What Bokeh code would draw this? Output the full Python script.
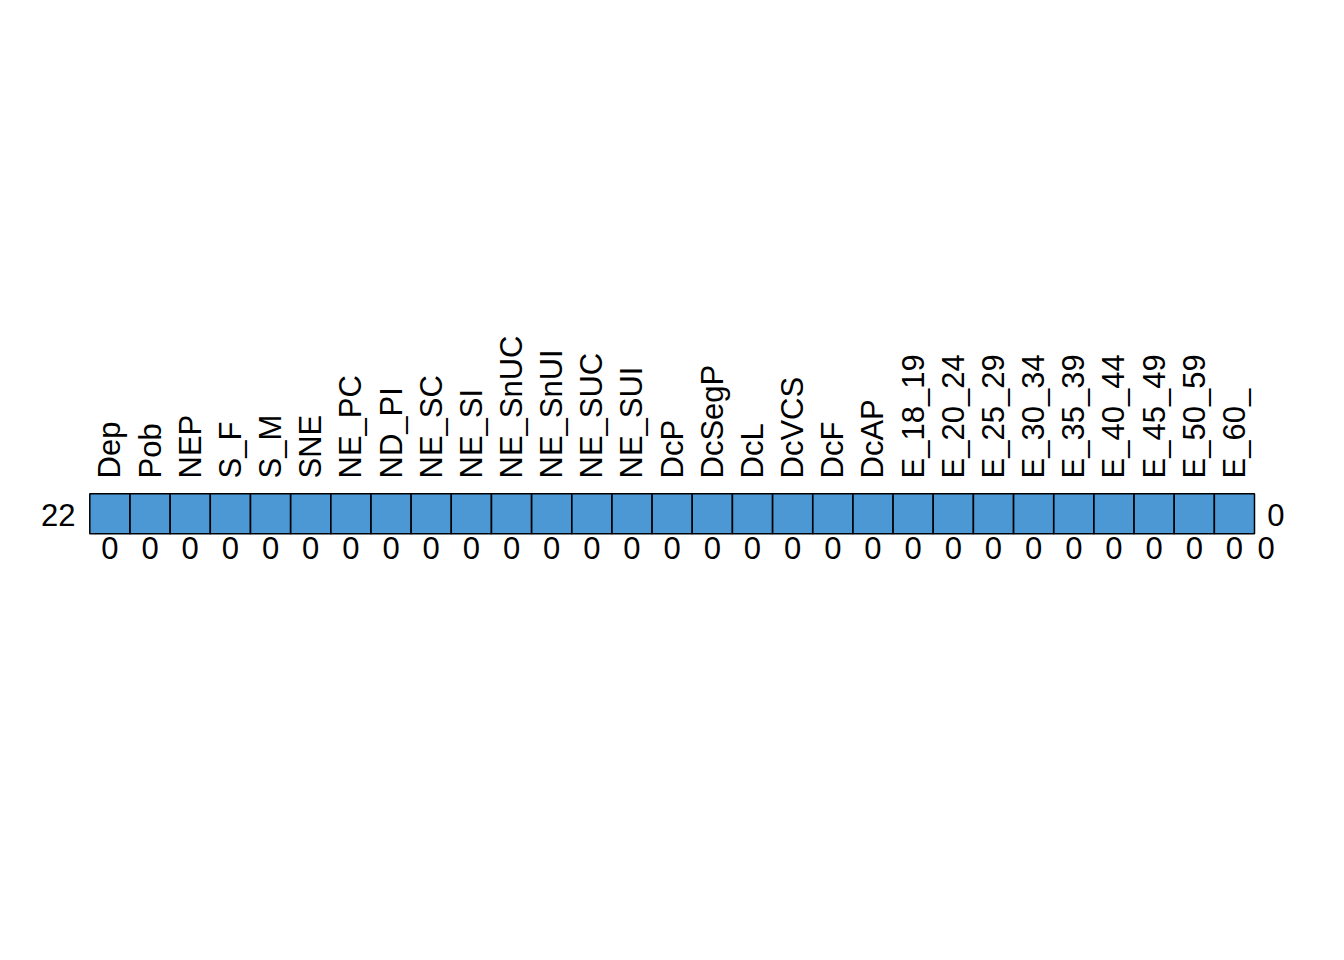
import math
from bokeh.plotting import figure
from bokeh.models import ColumnDataSource, Range1d
from bokeh.core.properties import value
from bokeh.embed import file_html
from bokeh.resources import INLINE

# ---- data ----
columns = ["Dep", "Pob", "NEP", "S_F", "S_M", "SNE", "NE_PC", "ND_PI", "NE_SC", "NE_SI",
           "NE_SnUC", "NE_SnUI", "NE_SUC", "NE_SUI", "DcP", "DcSegP", "DcL", "DcVCS", "DcF",
           "DcAP", "E_18_19", "E_20_24", "E_25_29", "E_30_34", "E_35_39", "E_40_44",
           "E_45_49", "E_50_59", "E_60_"]
col_missing = [0] * 29          # missing count per variable
row_counts = [22]               # number of rows with each pattern
row_missing = [0]               # number of missing variables per pattern
total_missing = 0

FONT = value("Liberation Sans")
FS = "31px"

n = len(columns)
x0 = 89.3
cw = (1254.0 - 89.3) / n
p = figure(width=1344, height=960, output_backend="svg", toolbar_location=None,
           min_border=0, x_range=Range1d(-x0 / cw, (1344 - x0) / cw),
           y_range=Range1d((533.3 - 960) / 40.0, 533.3 / 40.0))
p.axis.visible = False
p.grid.visible = False
p.outline_line_color = None
p.background_fill_color = "white"
p.border_fill_color = "white"

# cells
cells = ColumnDataSource(dict(x=[i + 0.5 for i in range(n)], y=[0.5] * n))
p.rect(x="x", y="y", width=1, height=1, source=cells, fill_color="#006CC2",
       fill_alpha=0.7, line_color="black", line_width=1.5)

# column labels
lab = ColumnDataSource(dict(x=[i + 0.5 for i in range(n)], y=[1.3825] * n, t=columns))
p.text(x="x", y="y", text="t", source=lab, angle=math.pi / 2, text_align="left",
       text_baseline="middle", text_font=FONT, text_font_size=FS, text_color="black")

# bottom counts
bot = ColumnDataSource(dict(x=[i + 0.5 for i in range(n)] + [29.29],
                            y=[-0.36] * (n + 1),
                            t=[str(v) for v in col_missing] + [str(total_missing)]))
p.text(x="x", y="y", text="t", source=bot, text_align="center", text_baseline="middle",
       text_font=FONT, text_font_size=FS, text_color="black")

# left counts
left = ColumnDataSource(dict(x=[-0.356], y=[0.46], t=[str(v) for v in row_counts]))
p.text(x="x", y="y", text="t", source=left, text_align="right", text_baseline="middle",
       text_font=FONT, text_font_size=FS, text_color="black")

# right counts
right = ColumnDataSource(dict(x=[29.32], y=[0.48], t=[str(v) for v in row_missing]))
p.text(x="x", y="y", text="t", source=right, text_align="left", text_baseline="middle",
       text_font=FONT, text_font_size=FS, text_color="black")

open("out.html", "w").write(file_html(p, INLINE))
